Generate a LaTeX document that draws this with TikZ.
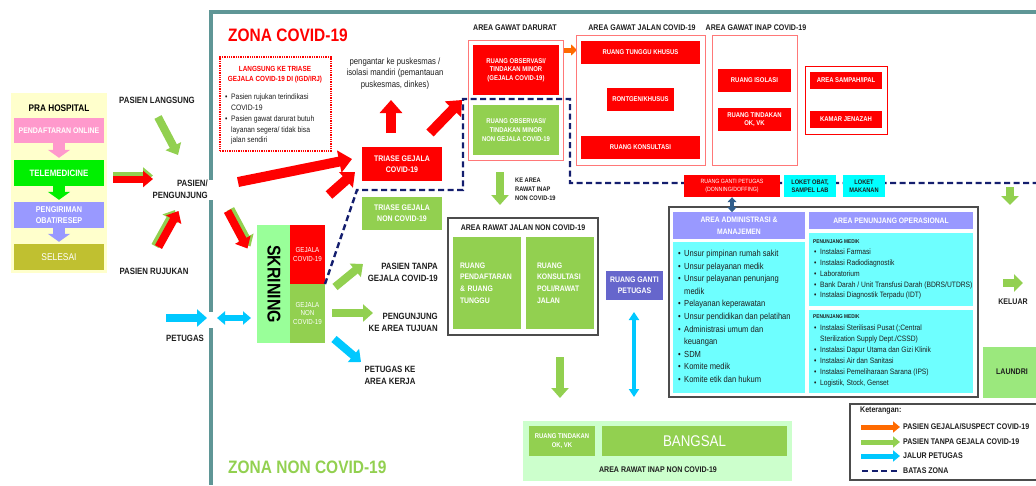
\documentclass[tikz,border=0pt]{standalone}
\usepackage{fontspec}
\setmainfont[FakeStretch=0.86]{Liberation Sans}
\usetikzlibrary{arrows.meta,fit}
\definecolor{cred}{RGB}{255,0,0}
\definecolor{cgreen}{RGB}{146,208,80}
\definecolor{cskr}{RGB}{153,255,153}
\definecolor{carea}{RGB}{204,255,204}
\definecolor{claun}{RGB}{155,232,125}
\definecolor{ccyan}{RGB}{0,255,255}
\definecolor{cadm}{RGB}{110,255,255}
\definecolor{clav}{RGB}{153,153,255}
\definecolor{cpurp}{RGB}{102,102,204}
\definecolor{csky}{RGB}{0,200,255}
\definecolor{corange}{RGB}{255,106,0}
\definecolor{cteal}{RGB}{95,150,150}
\definecolor{clred}{RGB}{255,120,120}
\definecolor{cpink}{RGB}{255,153,204}
\definecolor{ctele}{RGB}{0,240,0}
\definecolor{colive}{RGB}{192,192,48}
\definecolor{cpra}{RGB}{255,255,204}
\definecolor{cnavy}{RGB}{20,30,110}
\definecolor{csteel}{RGB}{50,95,140}
\definecolor{ctxt}{RGB}{30,30,30}
\newcommand\myfs[2]{\fontsize{#1}{#2}\selectfont}
\newcommand\bul{\makebox[6pt][l]{\textbullet}}
\newcommand\myind{\hspace*{6pt}}
% box from corners (empty fit node) + centred text node
\newcommand\tbox[8]{\node[bx, #6, fit={(#2,#3) (#4,#5)}] (#1) {};
  \node[bx, #7] (#1t) at (#1.center) {#8};}
\tikzset{
  bx/.style={inner sep=0pt, align=center},
  wt/.style={text=white, font=\bfseries\myfs{6.9}{8.7}},
  lbl/.style={inner sep=0pt, align=center, text=ctxt, font=\bfseries\myfs{9.1}{12}},
  lbs/.style={inner sep=0pt, align=center, text=ctxt, font=\bfseries\myfs{8.2}{12}},
  hdr/.style={inner sep=0pt, text=ctxt, font=\bfseries\myfs{8.2}{9}},
  bigA/.style={line width=10pt, -{Triangle[length=13pt,width=22pt]}},
  midA/.style={line width=8pt, -{Triangle[length=10pt,width=17pt]}},
  blkD/.style={line width=12pt, -{Triangle[length=8pt,width=22pt]}},
  zonedash/.style={cnavy, line width=2.4pt, dash pattern=on 6pt off 3.5pt},
  framel/.style={cteal, line width=4pt},
  areabox/.style={draw=clred, line width=0.9pt, inner sep=0pt},
  grayb/.style={draw=black!70, line width=1.2pt, inner sep=0pt},
}
\begin{document}
\begin{tikzpicture}[x=1pt,y=-1pt]
\useasboundingbox (0,0) rectangle (1036,485);
% frame
\draw[framel] (209,12) -- (1036,12);
\draw[framel] (211,10) -- (211,180);
\draw[framel] (211,200) -- (211,312);
\draw[framel] (211,328) -- (211,485);

% PRA HOSPITAL
\node[bx, fill=cpra, fit={(11,93) (107,273)}] (pra) {};
\node[bx, text=black, font=\bfseries\myfs{9.6}{10}] (prat) at (59,108) {PRA HOSPITAL};
\tbox{pend}{14}{118}{104}{143}{fill=cpink}{text=white, font=\bfseries\myfs{8.1}{9}}{PENDAFTARAN ONLINE}
\tbox{tele}{14}{160}{104}{186}{fill=ctele}{text=white, font=\bfseries\myfs{9.2}{9}}{TELEMEDICINE}
\tbox{peng}{14}{202}{104}{228}{fill=clav}{text=white, font=\bfseries\myfs{8.4}{10.5}}{PENGIRIMAN\\OBAT/RESEP}
\tbox{sel}{14}{244}{104}{270}{fill=colive}{text=white, font=\myfs{9.8}{10}}{SELESAI}
\draw[blkD, cpink, shorten >=2pt] (pend.south) -- (tele.north);
\draw[blkD, ctele, shorten >=2pt] (tele.south) -- (peng.north);
\draw[blkD, clav, shorten >=2pt] (peng.south) -- (sel.north);

% left labels and arrows
\node[lbl] (plang) at (157,100) {PASIEN LANGSUNG};
\node[lbl, anchor=east, align=right] (pasien) at (208,189) {PASIEN/\\PENGUNJUNG};
\node[lbl] (pruj) at (154,271) {PASIEN RUJUKAN};
\node[lbl] (petg) at (185,338) {PETUGAS};
\draw[line width=7pt, cgreen, -{Triangle[length=10pt,width=16pt]}] (113,175.5) -- (153,175.5);
\draw[line width=7pt, cred, -{Triangle[length=10pt,width=16pt]}] (113,179) -- (153,179);
\draw[midA, cgreen] (158,117) -- (178,155);
\draw[midA, cgreen] (155,246) -- (175,210);
\draw[midA, cred] (158.5,247) -- (178.5,211);
\draw[midA, csky] (166,318) -- (207,318);
\draw[line width=6pt, csky, {Triangle[length=8pt,width=13pt]}-{Triangle[length=8pt,width=13pt]}] (217,318) -- (251,318);

% zone titles
\node[anchor=west, inner sep=0, text=cred, font=\bfseries\myfs{18}{18}] (zc) at (228,35) {ZONA COVID-19};
\node[anchor=west, inner sep=0, text=cgreen, font=\bfseries\myfs{18}{18}] (zn) at (228,467) {ZONA NON COVID-19};

% dotted box
\node[bx, draw=cred, densely dotted, line width=1.3pt, fit={(220,57) (331,151)}] (lbox) {};
\node[bx, text=cred, font=\bfseries\myfs{7.4}{10}] (lboxt) at (275,75) {LANGSUNG KE TRIASE\\GEJALA COVID-19 DI (IGD/IRJ)};
\node[anchor=north west, inner sep=0, align=left, text=ctxt, font=\myfs{7.9}{10.7}] (lboxb) at (225,94) {\bul Pasien rujukan terindikasi\\\myind COVID-19\\\bul Pasien gawat darurat butuh\\\myind layanan segera/ tidak bisa\\\myind jalan sendiri};

% pengantar
\node[inner sep=0, align=center, text=ctxt, font=\myfs{9}{11.7}] (pgt) at (395,73.5) {pengantar ke puskesmas /\\isolasi mandiri (pemantauan\\puskesmas, dinkes)};

% red arrows
\draw[bigA, cred] (238,182) -- (352,159);
\draw[line width=10pt, cred, -{Triangle[length=12pt,width=20pt]}] (329,195) -- (355,172);
\draw[midA, cgreen] (230.5,209) -- (250.5,246.5);
\draw[midA, cred] (227.5,211) -- (247.5,248.5);
\draw[bigA, cred] (391,133) -- (391,100);
\draw[bigA, cred] (430,133) -- (462,100);

% triase
\tbox{tri}{362}{147}{442}{181}{fill=cred}{text=white, font=\bfseries\myfs{8.1}{10.7}}{TRIASE GEJALA\\COVID-19}
\tbox{trin}{362}{197}{442}{230}{fill=cgreen}{text=white, font=\bfseries\myfs{8.1}{10.7}}{TRIASE GEJALA\\NON COVID-19}

% skrining
\node[bx, fill=cskr, fit={(257,225) (291,343)}] (skr) {};
\node[rotate=-90, inner sep=0, text=black, font=\bfseries\myfs{18.5}{18}] (skrt) at (274,284) {SKRINING};
\tbox{gc}{290}{225}{325}{284}{fill=cred}{text=white, font=\myfs{7.2}{9}}{GEJALA\\COVID-19}
\tbox{gn}{290}{284}{325}{343}{fill=cgreen}{text=white, font=\myfs{7.2}{8.7}}{GEJALA\\NON\\COVID-19}
\draw[midA, cgreen] (335,287) -- (363,264);
\draw[midA, cgreen] (332,313) -- (373,313);
\draw[midA, csky] (334,339) -- (361,362);
\node[lbl, anchor=east, align=right] (ptg) at (438,272) {PASIEN TANPA\\GEJALA COVID-19};
\node[lbl, anchor=east, align=right] (pkat) at (438,322) {PENGUNJUNG\\KE AREA TUJUAN};
\node[lbl] (pka) at (390,375) {PETUGAS KE\\AREA KERJA};

% gawat darurat
\node[hdr] (hgd) at (515,28) {AREA GAWAT DARURAT};
\node[areabox, fit={(468,40) (563,160)}] (gd) {};
\tbox{obc}{473}{45}{559}{95}{fill=cred}{wt}{RUANG OBSERVASI/\\TINDAKAN MINOR\\(GEJALA COVID-19)}
\tbox{obn}{473}{105}{559}{155}{fill=cgreen}{wt}{RUANG OBSERVASI/\\TINDAKAN MINOR\\NON GEJALA COVID-19}
\draw[line width=5pt, corange, -{Triangle[length=6pt,width=11pt]}] (564,50) -- (577,50);

% gawat jalan
\node[hdr] (hgj) at (642,28) {AREA GAWAT JALAN COVID-19};
\node[areabox, fit={(576,35) (705,165)}] (gj) {};
\tbox{rtk}{581}{41}{700}{64}{fill=cred}{wt}{RUANG TUNGGU KHUSUS}
\tbox{ront}{607}{88}{674}{111}{fill=cred}{wt}{RONTGEN/KHUSUS}
\tbox{rkon}{581}{136}{700}{159}{fill=cred}{wt}{RUANG KONSULTASI}

% gawat inap
\node[hdr] (hgi) at (756,28) {AREA GAWAT INAP COVID-19};
\node[areabox, fit={(712,35) (797,165)}] (gi) {};
\tbox{riso}{718}{69}{791}{92}{fill=cred}{wt}{RUANG ISOLASI}
\tbox{rtin}{718}{108}{791}{131}{fill=cred}{wt}{RUANG TINDAKAN\\OK, VK}

% sampah
\node[bx, draw=cred, line width=0.9pt, fit={(805,66) (887,134)}] (samp) {};
\tbox{ipal}{810}{72}{882}{89}{fill=cred}{wt}{AREA SAMPAH/IPAL}
\tbox{jen}{810}{111}{882}{128}{fill=cred}{wt}{KAMAR JENAZAH}

% zone border
\draw[zonedash] (325,284) -- (357,190) -- (463,190) -- (463,99) -- (570,99) -- (570,183) -- (1036,183);

% ganti petugas / loket
\tbox{rgp}{684}{175}{780}{197}{fill=cred}{text=white, font=\myfs{6.1}{8.5}}{RUANG GANTI PETUGAS\\(DONNING/DOFFING)}
\tbox{lok1}{784}{175}{836}{197}{fill=ccyan}{text=ctxt, font=\bfseries\myfs{6.6}{8.5}}{LOKET OBAT,\\SAMPEL LAB}
\tbox{lok2}{843}{175}{885}{197}{fill=ccyan}{text=ctxt, font=\bfseries\myfs{6.6}{8.5}}{LOKET\\MAKANAN}

% admin
\node[grayb, fit={(669,207) (978,397)}] (adm) {};
\draw[line width=3.5pt, csteel, {Triangle[length=5pt,width=9pt]}-{Triangle[length=5pt,width=9pt]}] (rgp.south) -- ++(0,15);
\tbox{admh}{673}{212}{805}{239}{fill=clav}{text=white, font=\bfseries\myfs{7.9}{12}}{AREA ADMINISTRASI \&\\MANAJEMEN}
\tbox{penh}{809}{212}{973}{229}{fill=clav}{text=white, font=\bfseries\myfs{7.9}{11}}{AREA PENUNJANG OPERASIONAL}
\node[bx, fill=cadm, fit={(673,242) (805,393)}] (admb) {};
\node[bx, fill=cadm, fit={(809,233) (973,306)}] (pen1) {};
\node[bx, fill=cadm, fit={(809,310) (973,393)}] (pen2) {};
\node[anchor=north west, inner sep=0, align=left, text=ctxt, font=\myfs{8.8}{12.6}] (admt) at (678,250) {\bul Unsur pimpinan rumah sakit\\\bul Unsur pelayanan medik\\\bul Unsur pelayanan penunjang\\\myind medik\\\bul Pelayanan keperawatan\\\bul Unsur pendidikan dan pelatihan\\\bul Administrasi umum dan\\\myind keuangan\\\bul SDM\\\bul Komite medik\\\bul Komite etik dan hukum};
\node[anchor=west, inner sep=0, text=ctxt, font=\bfseries\myfs{5.5}{6}] (pm1) at (813,242) {PENUNJANG MEDIK};
\node[anchor=north west, inner sep=0, align=left, text=ctxt, font=\myfs{7.8}{10.75}] (pm1t) at (814,249) {\bul Instalasi Farmasi\\\bul Instalasi Radiodiagnostik\\\bul Laboratorium\\\bul Bank Darah / Unit Transfusi Darah (BDRS/UTDRS)\\\bul Instalasi Diagnostik Terpadu (IDT)};
\node[anchor=west, inner sep=0, text=ctxt, font=\bfseries\myfs{5.5}{6}] (pm2) at (813,317) {PENUNJANG MEDIK};
\node[anchor=north west, inner sep=0, align=left, text=ctxt, font=\myfs{7.8}{10.9}] (pm2t) at (814,325) {\bul Instalasi Sterilisasi Pusat (;Central\\\myind Sterilization Supply Dept./CSSD)\\\bul Instalasi Dapur Utama dan Gizi Klinik\\\bul Instalasi Air dan Sanitasi\\\bul Instalasi Pemeliharaan Sarana (IPS)\\\bul Logistik, Stock, Genset};

% rawat jalan non covid
\draw[midA, cgreen] (500,172) -- (500,205);
\node[anchor=west, inner sep=0, align=left, text=ctxt, font=\bfseries\myfs{6.6}{9}] (kear) at (515,189) {KE AREA\\RAWAT INAP\\NON COVID-19};
\node[grayb, fit={(448,218) (598,335)}] (rj) {};
\node[hdr] (hrj) at (523,228) {AREA RAWAT JALAN NON COVID-19};
\tbox{rpd}{453}{237}{521}{329}{fill=cgreen}{text=white, align=left, text width=54pt, font=\bfseries\myfs{8}{11.7}}{RUANG\\PENDAFTARAN\\\& RUANG\\TUNGGU}
\tbox{rkp}{526}{237}{594}{329}{fill=cgreen}{text=white, align=left, text width=46pt, font=\bfseries\myfs{8}{11.7}}{RUANG\\KONSULTASI\\POLI/RAWAT\\JALAN}
\tbox{rgp2}{606}{271}{663}{300}{fill=cpurp}{text=white, font=\bfseries\myfs{8}{11}}{RUANG GANTI\\PETUGAS}
\draw[line width=4pt, csky, {Triangle[length=8pt,width=10pt]}-{Triangle[length=8pt,width=10pt]}] (634,312) -- (634,397);
\draw[midA, cgreen] (560,357) -- (560,398);

% rawat inap non covid
\node[bx, fill=carea, fit={(523,421) (792,481)}] (ri) {};
\tbox{rto}{529}{426}{595}{456}{fill=cgreen}{text=white, font=\bfseries\myfs{6.9}{8.5}}{RUANG TINDAKAN\\OK, VK}
\tbox{bang}{602}{426}{787}{456}{fill=cgreen}{text=white, font=\myfs{15.5}{16}}{BANGSAL}
\node[hdr] (hri) at (658,470) {AREA RAWAT INAP NON COVID-19};

% right side
\draw[line width=8pt, cgreen, -{Triangle[length=9pt,width=17pt]}] (1010,187) -- (1010,205);
\draw[line width=8pt, cgreen, -{Triangle[length=9pt,width=17pt]}] (1003,283) -- (1023,283);
\node[lbs] (kel) at (1013,302) {KELUAR};
\node[bx, fill=claun, fit={(983,347) (1036,398)}] (laun) {};
\node[lbs] (launt) at (1012,372) {LAUNDRI};

% legend
\draw[black!70, line width=1.2pt] (1036,404) -- (850,404) -- (850,480) -- (1036,480);
\node[anchor=west, inner sep=0, text=ctxt, font=\bfseries\myfs{8.2}{8}] (ket) at (860,411) {Keterangan:};
\draw[line width=5pt, corange, -{Triangle[length=7pt,width=11pt]}] (861,427) -- (900,427);
\draw[line width=5pt, cgreen, -{Triangle[length=7pt,width=11pt]}] (861,442) -- (900,442);
\draw[line width=5pt, csky, -{Triangle[length=7pt,width=11pt]}] (861,456) -- (900,456);
\draw[zonedash] (862,471) -- (898,471);
\node[anchor=west, inner sep=0, text=ctxt, font=\bfseries\myfs{8.2}{8}] (l1) at (903,427) {PASIEN GEJALA/SUSPECT COVID-19};
\node[anchor=west, inner sep=0, text=ctxt, font=\bfseries\myfs{8.2}{8}] (l2) at (903,442) {PASIEN TANPA GEJALA COVID-19};
\node[anchor=west, inner sep=0, text=ctxt, font=\bfseries\myfs{8.2}{8}] (l3) at (903,456) {JALUR PETUGAS};
\node[anchor=west, inner sep=0, text=ctxt, font=\bfseries\myfs{8.2}{8}] (l4) at (903,471) {BATAS ZONA};
\end{tikzpicture}
\end{document}
